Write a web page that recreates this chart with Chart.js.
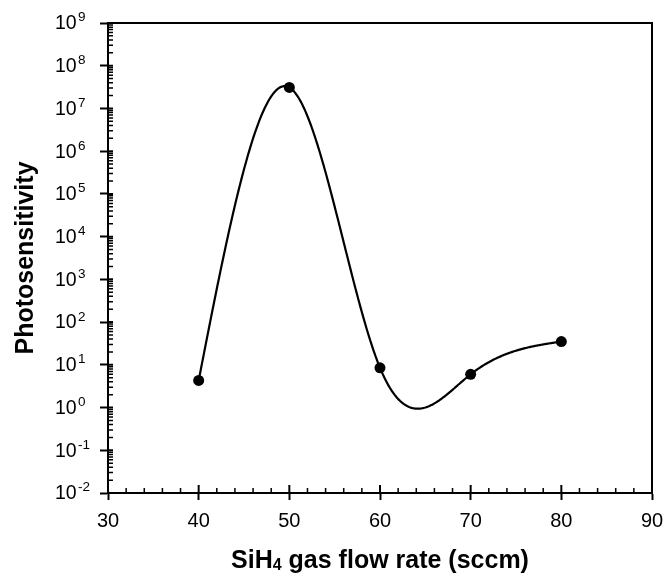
<!DOCTYPE html>
<html>
<head>
<meta charset="utf-8">
<script src="https://cdn.jsdelivr.net/npm/chart.js@4.4.1/dist/chart.umd.min.js"></script>
<style>
html,body{margin:0;padding:0;background:#fff;}
canvas{display:block;}
</style>
</head>
<body>
<canvas id="graph1" width="663" height="575"></canvas>
<script>
//データ
var flowRates = [40, 50, 60, 70, 80];
var photoSens = [4.3, 3.1e7, 8.5, 6.0, 35];
var xTicks = [30, 40, 50, 60, 70, 80, 90];
var yExps = [-2, -1, 0, 1, 2, 3, 4, 5, 6, 7, 8, 9];
var xTitle = ['SiH', '4', ' gas flow rate (sccm)'];
var yTitle = 'Photosensitivity';

var fontName = 'Arial, "Liberation Sans", sans-serif';

//自然スプライン (x, log10 y)
function naturalSpline(xs, ys) {
  var n = xs.length;
  var h = [], m = new Array(n).fill(0);
  for (let i = 0; i < n - 1; i++) h[i] = xs[i+1] - xs[i];
  // 三重対角
  var sub = [], diag = [], sup = [], rhs = [];
  for (let i = 1; i < n - 1; i++) {
    sub.push(h[i-1]);
    diag.push(2 * (h[i-1] + h[i]));
    sup.push(h[i]);
    rhs.push(6 * ((ys[i+1] - ys[i]) / h[i] - (ys[i] - ys[i-1]) / h[i-1]));
  }
  var k = diag.length;
  for (let i = 1; i < k; i++) {
    var w = sub[i] / diag[i-1];
    diag[i] -= w * sup[i-1];
    rhs[i] -= w * rhs[i-1];
  }
  var sol = new Array(k);
  for (let i = k - 1; i >= 0; i--) {
    sol[i] = (rhs[i] - (i < k - 1 ? sup[i] * sol[i+1] : 0)) / diag[i];
  }
  for (let i = 0; i < k; i++) m[i+1] = sol[i];
  return function(x) {
    var i = 0;
    while (i < n - 2 && x > xs[i+1]) i++;
    var t = x - xs[i], u = xs[i+1] - x, hh = h[i];
    return m[i] * u * u * u / (6 * hh) + m[i+1] * t * t * t / (6 * hh)
      + (ys[i] / hh - m[i] * hh / 6) * u + (ys[i+1] / hh - m[i+1] * hh / 6) * t;
  };
}

var splinePlugin = {
  id: 'splineLine',
  beforeDatasetsDraw: function(chart) {
    var xs = chart.scales.x, ys = chart.scales.y;
    var f = naturalSpline(flowRates, photoSens.map(v => Math.log10(v)));
    var ctx = chart.ctx;
    var x0 = flowRates[0], x1 = flowRates[flowRates.length - 1];
    ctx.save();
    ctx.beginPath();
    for (let s = 0; s <= 400; s++) {
      var xv = x0 + (x1 - x0) * s / 400;
      var px = xs.getPixelForValue(xv);
      var py = ys.getPixelForValue(Math.pow(10, f(xv)));
      if (s == 0) ctx.moveTo(px, py); else ctx.lineTo(px, py);
    }
    ctx.lineWidth = 2.2;
    ctx.strokeStyle = '#000';
    ctx.lineJoin = 'round';
    ctx.stroke();
    ctx.restore();
  }
};

var axisPlugin = {
  id: 'axisDeco',
  afterDraw: function(chart) {
    var ctx = chart.ctx;
    var a = chart.chartArea;
    var xs = chart.scales.x, ys = chart.scales.y;
    ctx.save();
    ctx.strokeStyle = '#000';
    ctx.fillStyle = '#000';
    //枠
    ctx.lineWidth = 2;
    ctx.beginPath();
    ctx.moveTo(a.left - 1, a.top);
    ctx.lineTo(a.right, a.top);
    ctx.lineTo(a.right, a.bottom);
    ctx.stroke();
    //主目盛の内側
    ctx.beginPath();
    for (let v of xTicks) {
      var px = xs.getPixelForValue(v);
      ctx.moveTo(px, a.bottom);
      ctx.lineTo(px, a.bottom - 8);
    }
    for (let e of yExps) {
      var py = ys.getPixelForValue(Math.pow(10, e));
      ctx.moveTo(a.left, py);
      ctx.lineTo(a.left + 5, py);
    }
    ctx.stroke();
    //補助目盛
    ctx.lineWidth = 1.5;
    ctx.beginPath();
    for (let v = xTicks[0]; v < xTicks[xTicks.length - 1]; v += 2) {
      if (v % 10 == 0) continue;
      var px = xs.getPixelForValue(v);
      ctx.moveTo(px, a.bottom);
      ctx.lineTo(px, a.bottom - 5);
    }
    for (let e = yExps[0]; e < yExps[yExps.length - 1]; e++) {
      for (let j = 2; j < 10; j++) {
        var py = ys.getPixelForValue(j * Math.pow(10, e));
        ctx.moveTo(a.left, py);
        ctx.lineTo(a.left + 5, py);
      }
    }
    ctx.stroke();
    //Y軸ラベル 10^n
    for (let e of yExps) {
      var py = ys.getPixelForValue(Math.pow(10, e));
      ctx.textAlign = 'left';
      ctx.textBaseline = 'middle';
      ctx.font = '19.5px ' + fontName;
      ctx.fillText('10', 55, py + 1);
      ctx.font = '13.5px ' + fontName;
      ctx.textBaseline = 'top';
      ctx.fillText(String(e), 78, py - 12);
    }
    //Y軸タイトル
    ctx.save();
    ctx.translate(33, (a.top + a.bottom) / 2);
    ctx.rotate(-Math.PI / 2);
    ctx.font = 'bold 25px ' + fontName;
    ctx.textAlign = 'center';
    ctx.textBaseline = 'alphabetic';
    ctx.fillText(yTitle, 0, 0);
    ctx.restore();
    //X軸タイトル (下付き文字)
    var big = 'bold 25px ' + fontName, small = 'bold 16px ' + fontName;
    ctx.font = big;
    var w0 = ctx.measureText(xTitle[0]).width;
    var w2 = ctx.measureText(xTitle[2]).width;
    ctx.font = small;
    var w1 = ctx.measureText(xTitle[1]).width;
    var sx = (a.left + a.right) / 2 - (w0 + w1 + w2) / 2;
    var by = 568;
    ctx.textAlign = 'left';
    ctx.textBaseline = 'alphabetic';
    ctx.font = big;
    ctx.fillText(xTitle[0], sx, by);
    ctx.font = small;
    ctx.fillText(xTitle[1], sx + w0, by + 2);
    ctx.font = big;
    ctx.fillText(xTitle[2], sx + w0 + w1, by);
    ctx.restore();
  }
};

document.addEventListener('DOMContentLoaded', function() {
  var ctx = document.querySelector('#graph1').getContext('2d');
  var points = flowRates.map((x, i) => ({x: x, y: photoSens[i]}));
  var chart = new Chart(ctx, {
    type: 'scatter',
    data: {
      datasets: [{
        data: points,
        showLine: false,
        pointRadius: 5.5,
        pointHoverRadius: 5.5,
        backgroundColor: '#000',
        borderColor: '#000',
        borderWidth: 0
      }]
    },
    options: {
      responsive: false,
      animation: false,
      events: [],
      layout: {padding: {left: 100, right: 0, top: 23, bottom: 33}},
      plugins: {legend: {display: false}, tooltip: {enabled: false}},
      scales: {
        x: {
          type: 'linear', min: 30, max: 90,
          afterBuildTicks: function(s) { s.ticks = xTicks.map(v => ({value: v})); },
          afterFit: function(s) { s.paddingRight = 11; },
          grid: {drawOnChartArea: false, drawTicks: true, tickLength: 7, tickWidth: 2, tickColor: '#000'},
          border: {color: '#000', width: 2},
          ticks: {color: '#000', font: {family: fontName, size: 20}, padding: 9, maxRotation: 0, autoSkip: false}
        },
        y: {
          type: 'logarithmic', min: 0.01, max: 1e9,
          afterBuildTicks: function(s) { s.ticks = yExps.map(e => ({value: Math.pow(10, e)})); },
          grid: {drawOnChartArea: false, drawTicks: true, tickLength: 8, tickWidth: 2, tickColor: '#000'},
          border: {color: '#000', width: 2},
          ticks: {display: false}
        }
      }
    },
    plugins: [splinePlugin, axisPlugin]
  });
});
</script>
</body>
</html>
